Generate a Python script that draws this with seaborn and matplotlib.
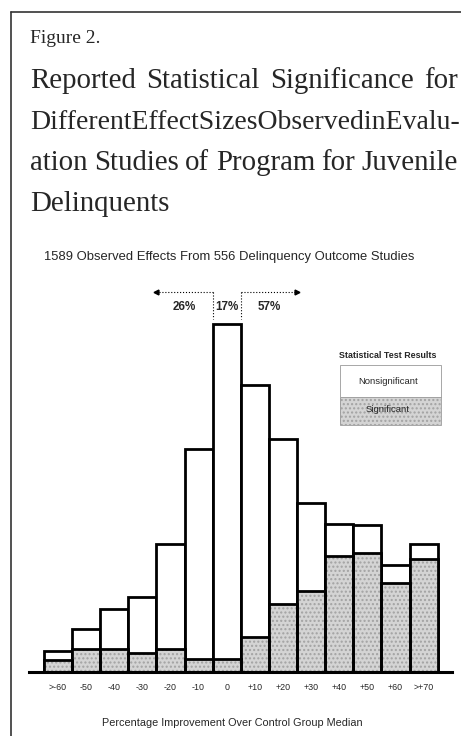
import matplotlib
matplotlib.use("Agg")
import matplotlib.pyplot as plt
from matplotlib.patches import Rectangle
from matplotlib.lines import Line2D
import seaborn as sns
import pandas as pd

# effect-size bins and counts
bins = [">-60", "-50", "-40", "-30", "-20", "-10", "0",
        "+10", "+20", "+30", "+40", "+50", "+60", ">+70"]
total_effects = [16, 32, 47, 56, 96, 167, 261, 215, 175, 127, 111, 110, 80, 96]
significant_effects = [9, 17, 17, 14, 17, 10, 10, 26, 51, 61, 87, 89, 67, 85]
share_labels = ["26%", "17%", "57%"]

title_lines = [
    "Reported Statistical Significance for",
    "DifferentEffectSizesObservedinEvalu-",
    "ation Studies of Program for Juvenile",
    "Delinquents",
]

W, H = 461, 736
SIG_GRAY = "#d4d4d4"
DOT_GRAY = "#a2a2a2"

sns.set_style("white")
plt.rcParams["font.family"] = ["Liberation Sans", "DejaVu Sans"]

df = pd.DataFrame({"bin": bins, "total": total_effects, "sig": significant_effects})

fig = plt.figure(figsize=(W / 100, H / 100), dpi=100)
renderer = fig.canvas.get_renderer()


def fy(y):
    return 1 - y / H


# frame lines (top and left only)
fig.add_artist(Line2D([11 / W, 1], [fy(12), fy(12)], color="#333333", lw=1.2))
fig.add_artist(Line2D([11 / W, 11 / W], [fy(12), 0], color="#333333", lw=1.2))

# caption
fig.text(30 / W, fy(43), "Figure 2.", fontsize=14, family="Liberation Serif", va="baseline")

x0, x1 = 30, 458
for i, line in enumerate(title_lines):
    y = fy(88 + 41 * i)
    words = line.split(" ")
    if i == len(title_lines) - 1:
        fig.text(x0 / W, y, line, fontsize=20.8, family="Liberation Serif", va="baseline")
        continue
    texts = [fig.text(0, y, w, fontsize=20.8, family="Liberation Serif", va="baseline")
             for w in words]
    widths = [t.get_window_extent(renderer).width for t in texts]
    if len(words) == 1:
        if widths[0] > x1 - x0:
            texts[0].set_fontsize(20.8 * (x1 - x0) / widths[0])
        texts[0].set_x(x0 / W)
        continue
    gap = (x1 - x0 - sum(widths)) / (len(words) - 1)
    x = x0
    for t, w in zip(texts, widths):
        t.set_x(x / W)
        x += w + gap

fig.text(229.5 / W, fy(257), "1589 Observed Effects From 556 Delinquency Outcome Studies",
         fontsize=9.4, ha="center", va="center")

# histogram
ax = fig.add_axes([29 / W, fy(672), (452 - 29) / W, (672 - 280) / H])
sns.barplot(data=df, x="bin", y="total", color="white", saturation=1, width=1.0,
            edgecolor="black", linewidth=2, ax=ax)
sns.barplot(data=df, x="bin", y="sig", color=SIG_GRAY, saturation=1, width=1.0,
            edgecolor=DOT_GRAY, linewidth=0, hatch="....", ax=ax)
sns.barplot(data=df, x="bin", y="sig", color="black", fill=False, width=1.0,
            linewidth=2, ax=ax)

ax.set_xlim(-1.03, 14.01)
ax.set_ylim(0, 294)
ax.set_xlabel("")
ax.set_ylabel("")
ax.set_yticks([])
sns.despine(ax=ax, left=True)
ax.spines["bottom"].set_linewidth(2.2)
ax.spines["bottom"].set_color("black")
ax.tick_params(axis="x", length=0, labelsize=6.4, pad=8)

# share of effects below / at / above zero
arrow_y = 285
zero = bins.index("0")
left_edge, right_edge = zero - 0.5, zero + 0.5
dot = dict(ls=":", color="black", lw=0.8, clip_on=False)
ax.plot([left_edge - 2, left_edge], [arrow_y, arrow_y], **dot)
ax.plot([right_edge, right_edge + 2], [arrow_y, arrow_y], **dot)
ax.plot([left_edge, left_edge], [arrow_y, 265], **dot)
ax.plot([right_edge, right_edge], [arrow_y, 265], **dot)
ax.plot(left_edge - 2, arrow_y, marker="<", ms=3.5, color="black", clip_on=False)
ax.plot(right_edge + 2, arrow_y, marker=">", ms=3.5, color="black", clip_on=False)
for xc, lab in zip([left_edge - 1, zero, right_edge + 1], share_labels):
    ax.text(xc, 274, lab, ha="center", va="center", fontsize=8.4, fontweight="bold")

fig.text(232 / W, fy(723), "Percentage Improvement Over Control Group Median",
         fontsize=7.8, ha="center", va="center")

# legend box
fig.text(388 / W, fy(356), "Statistical Test Results", fontsize=6.4, fontweight="bold",
         ha="center", va="center")
fig.add_artist(Rectangle((340 / W, fy(397)), 101 / W, 32 / H, transform=fig.transFigure,
                         facecolor="white", edgecolor="#999999", lw=0.6))
fig.add_artist(Rectangle((340 / W, fy(425)), 101 / W, 28 / H, transform=fig.transFigure,
                         facecolor=SIG_GRAY, edgecolor=DOT_GRAY, lw=0, hatch="...."))
fig.add_artist(Rectangle((340 / W, fy(425)), 101 / W, 28 / H, transform=fig.transFigure,
                         facecolor="none", edgecolor="#999999", lw=0.6))
fig.text(388 / W, fy(381), "Nonsignificant", fontsize=6.8, ha="center", va="center")
fig.text(388 / W, fy(410), "Significant", fontsize=6.8, ha="center", va="center")

fig.savefig("out.png", dpi=100)
